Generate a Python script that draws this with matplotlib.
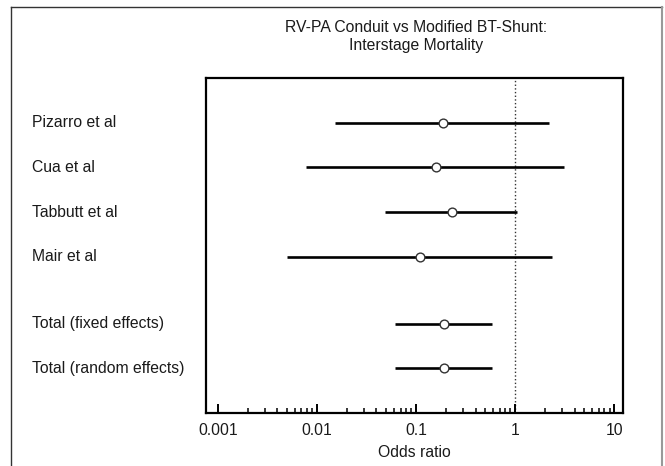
import matplotlib
matplotlib.use("Agg")
import matplotlib.pyplot as plt
from matplotlib.lines import Line2D
from matplotlib.ticker import FixedLocator, NullFormatter

plt.rcParams['font.family'] = ['Liberation Sans', 'DejaVu Sans']

# Dados (odds ratio e IC 95%)
estudos = ['Pizarro et al', 'Cua et al', 'Tabbutt et al', 'Mair et al',
           'Total (fixed effects)', 'Total (random effects)']
odds_ratio = [0.186, 0.158, 0.233, 0.110, 0.192, 0.192]
ic_inferior = [0.0153, 0.0077, 0.049, 0.0050, 0.061, 0.062]
ic_superior = [2.22, 3.15, 1.055, 2.34, 0.586, 0.586]
linhas = [0, 1, 2, 3, 4.5, 5.5]

ticks_x = [0.001, 0.01, 0.1, 1, 10]
rotulos_x = ['0.001', '0.01', '0.1', '1', '10']

cor_texto = '#1a1a1a'
tam = 11.3

fig = plt.figure(figsize=(6.65, 4.66), dpi=100)
ax = fig.add_axes([0.3098, 0.1137, 0.627, 0.7189])

# Linha de referência em OR = 1
ax.axvline(1, color='#333333', ls=':', lw=1.0, zorder=1)

for y, lo, hi in zip(linhas, ic_inferior, ic_superior):
    ax.plot([lo, hi], [y, y], color='black', lw=1.9, solid_capstyle='butt', zorder=2)
ax.plot(odds_ratio, linhas, 'o', ms=6.3, mfc='white', mec='#333333', mew=1.0,
        ls='none', zorder=3)

for y, nome in zip(linhas, estudos):
    ax.text(-0.417, y, nome, transform=ax.get_yaxis_transform(), ha='left',
            va='center', fontsize=tam, color=cor_texto, clip_on=False)

ax.set_xscale('log')
ax.set_xlim(7.62e-4, 12.3)
ax.set_ylim(6.5, -1)
ax.set_yticks([])
ax.set_xticks(ticks_x)
ax.set_xticklabels(rotulos_x, fontsize=tam, color=cor_texto)
# ticks menores só entre 0.001 e 10
menores = [k * d for d in ticks_x[:-1] for k in range(2, 10)]
ax.xaxis.set_minor_locator(FixedLocator(menores))
ax.xaxis.set_minor_formatter(NullFormatter())
ax.tick_params(axis='x', which='major', direction='in', length=6.5, width=1.4, pad=7)
ax.tick_params(axis='x', which='minor', direction='in', length=3.5, width=1.1)
ax.set_xlabel('Odds ratio', fontsize=tam, color=cor_texto, labelpad=5)
for s in ax.spines.values():
    s.set_linewidth(1.6)
    s.set_color('black')

fig.text(0.6256, 0.921, 'RV-PA Conduit vs Modified BT-Shunt:\nInterstage Mortality',
         ha='center', va='center', fontsize=tam, color=cor_texto, linespacing=1.25)

# Moldura externa da imagem
fig.add_artist(Line2D([0.016, 0.016], [0.984, -0.01], transform=fig.transFigure,
                      color='#333333', lw=1.0))
fig.add_artist(Line2D([0.016, 0.995], [0.984, 0.984], transform=fig.transFigure,
                      color='#333333', lw=1.0))
fig.add_artist(Line2D([0.995, 0.995], [0.984, -0.01], transform=fig.transFigure,
                      color='#999999', lw=1.5))

fig.savefig('out.png', dpi=100)
